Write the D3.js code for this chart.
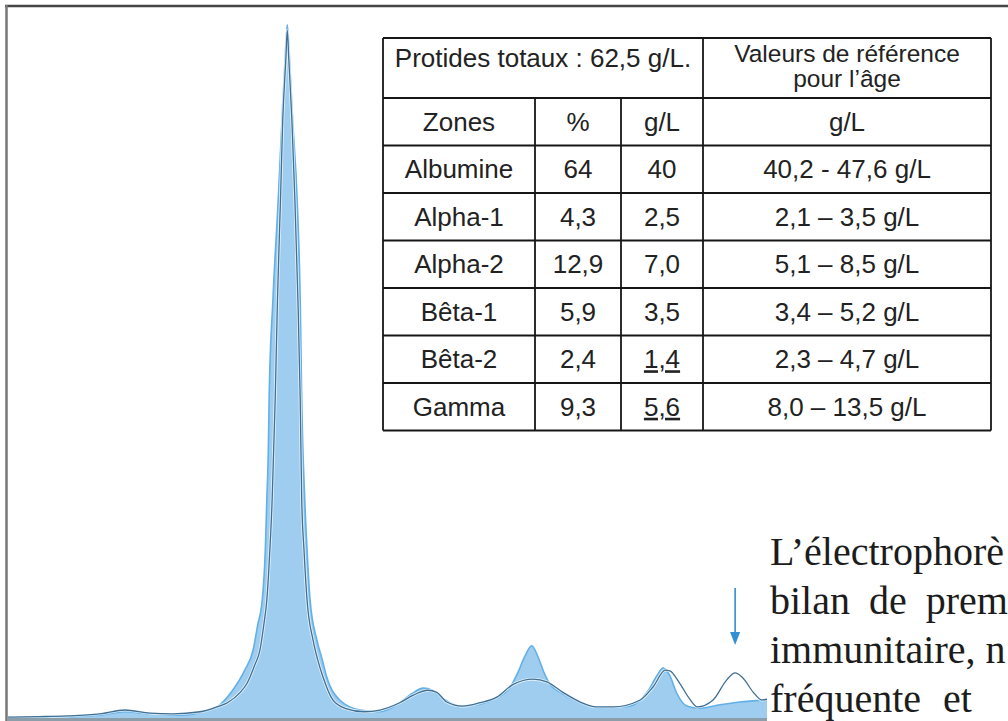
<!DOCTYPE html>
<html><head><meta charset="utf-8">
<script src="https://cdn.jsdelivr.net/npm/d3@7"></script>
<style>html,body{margin:0;padding:0;background:#fff;overflow:hidden}</style>
</head><body>
<svg id="c" width="1008" height="721"></svg>
<script>
// ---- Data: reference profile (outline) ----
const refMobility = [0,4.2,7.8,12.1,15.4,18.7,21.7,25.3,27.5,28.9,30.6,31.5,32.5,33.2,33.7,34.1,34.5,34.8,35.0,35.2,35.5,35.9,36.2,36.6,36.8,37.0,37.4,37.8,38.2,38.5,38.7,39.0,39.4,40.2,40.8,41.5,42.8,44.4,47.0,49.0,51.6,53.4,55.3,56.5,57.8,59.9,62.2,64.4,66.5,69.2,71.0,73.1,75.4,77.5,79.7,83.3,85.0,86.6,87.2,88.5,89.9,90.8,92.9,94.7,95.8,96.8,98.2,99.3,100];
const refIntensity = [0.14,0.2,0.3,0.6,1.15,0.7,0.6,0.9,1.6,2.2,3.7,5.0,7.6,9.8,13.4,17.0,24.2,31.4,38.6,45.8,60.2,74.6,86.2,94.8,99.1,94.8,86.2,74.6,60.2,45.8,31.4,24.2,17.0,11.2,8.4,5.9,2.6,1.4,0.9,1.15,2.2,3.3,4.0,3.7,2.3,1.7,2.2,3.0,4.8,5.6,5.2,3.7,2.3,1.6,1.6,2.6,4.5,6.9,6.8,5.0,2.6,1.6,2.6,5.5,6.5,5.8,3.7,2.6,2.7];
// ---- Data: patient profile (filled) ----
const patMobility = [0,7.8,12.1,15.4,18.7,22.7,26.0,27.9,29.6,31.2,32.3,32.9,33.5,33.9,34.1,34.3,34.4,34.9,35.6,36.1,36.5,36.8,37.1,37.5,38.1,38.5,38.7,39.1,39.4,39.8,40.7,41.4,42.0,43.7,46.4,49.0,51.6,53.2,54.7,55.9,57.2,59.6,62.2,64.4,66.1,67.2,68.1,69.0,69.8,70.6,71.4,73.1,75.4,78.0,81.9,84.2,85.5,86.3,87.2,88.1,89.5,91.2,93.8,96.4,100];
const patIntensity = [0,0.2,0.4,0.9,0.6,0.4,1.0,1.9,4.0,6.9,9.8,13.4,17.0,24.2,31.4,38.6,45.8,60.2,74.6,86.2,94.8,99.9,94.8,86.2,74.6,60.2,45.8,31.4,24.2,17.0,11.2,8.4,5.9,2.6,1.15,0.9,2.2,3.5,4.3,4.0,2.9,1.7,2.0,2.9,4.3,6.6,8.9,10.4,8.9,6.6,4.9,3.5,2.2,1.4,1.7,3.7,6.1,7.2,6.1,3.6,1.7,1.4,1.9,2.3,2.6];
const arrowMobility = [95.8];

// ---- Data: table ----
const headerTotal = "Protides totaux : 62,5 g/L.";
const headerRef = ["Valeurs de référence", "pour l’âge"];
const colHeaders = ["Zones", "%", "g/L", "g/L"];
const zones = ["Albumine", "Alpha-1", "Alpha-2", "Bêta-1", "Bêta-2", "Gamma"];
const percents = ["64", "4,3", "12,9", "5,9", "2,4", "9,3"];
const grams = ["40", "2,5", "7,0", "3,5", "1,4", "5,6"];
const refRanges = ["40,2 - 47,6 g/L", "2,1 – 3,5 g/L", "5,1 – 8,5 g/L", "3,4 – 5,2 g/L", "2,3 – 4,7 g/L", "8,0 – 13,5 g/L"];
const underlined = ["Bêta-2", "Gamma"];
// ---- Data: side text ----
const sideText = ["L’électrophorè", "bilan de prem", "immunitaire, n", "fréquente et"];

const svg = d3.select("#c");
const x = d3.scaleLinear().domain([0, 100]).range([8, 767]);
const y = d3.scaleLinear().domain([0, 100]).range([718, 24]);

const pat = patMobility.map((m, i) => ({m, v: patIntensity[i]}));
const ref = refMobility.map((m, i) => ({m, v: refIntensity[i]}));

const area = d3.area().x(d => x(d.m)).y0(y(0)).y1(d => y(d.v)).curve(d3.curveMonotoneX);
const line = d3.line().x(d => x(d.m)).y(d => y(d.v)).curve(d3.curveMonotoneX);

svg.append("path").attr("d", area(pat)).attr("fill", "#9fcdef");
svg.append("path").attr("d", line(pat)).attr("fill", "none").attr("stroke", "#62b0e8").attr("stroke-width", 1.6);
svg.append("path").attr("d", line(ref)).attr("fill", "none").attr("stroke", "#ffffff").attr("stroke-opacity", 0.7).attr("stroke-width", 3);
svg.append("path").attr("d", line(ref)).attr("fill", "none").attr("stroke", "#3f6f93").attr("stroke-width", 1.3);

// bottom baseline
svg.append("line").attr("x1", x(0)).attr("x2", x(100)).attr("y1", 719.5).attr("y2", 719.5)
  .attr("stroke", "#8d9eab").attr("stroke-width", 3);

// frame
svg.append("line").attr("x1", 5).attr("x2", 1008).attr("y1", 6).attr("y2", 6).attr("stroke", "#454545").attr("stroke-width", 2.5);
svg.append("line").attr("x1", 6.5).attr("x2", 6.5).attr("y1", 5).attr("y2", 721).attr("stroke", "#767676").attr("stroke-width", 2.5);

// arrow
const ax = x(arrowMobility[0]);
const arrowColor = "#2f90d2";
svg.append("line").attr("x1", ax).attr("x2", ax).attr("y1", 588).attr("y2", 636).attr("stroke", arrowColor).attr("stroke-width", 1.6);
svg.append("path").attr("d", d3.line()([[ax - 5, 632], [ax + 5, 632], [ax, 645]]) + "Z").attr("fill", arrowColor);

// table
const colX = [383, 535, 621, 703, 991];
const rowY = [38, 98];
for (let i = 0; i < zones.length + 1; i++) rowY.push(rowY[rowY.length - 1] + 47.5);
const t = svg.append("g").attr("font-family", "'Liberation Sans', Arial, sans-serif").attr("font-size", 26).attr("fill", "#222");
t.append("rect").attr("x", colX[0]).attr("y", rowY[0]).attr("width", colX[4] - colX[0]).attr("height", rowY[rowY.length - 1] - rowY[0]).attr("fill", "#fff");
const lc = "#161616", lw = 1.8;
rowY.forEach(yy => t.append("line").attr("x1", colX[0]).attr("x2", colX[4]).attr("y1", yy).attr("y2", yy).attr("stroke", lc).attr("stroke-width", lw));
[0, 3, 4].forEach(ci => t.append("line").attr("x1", colX[ci]).attr("x2", colX[ci]).attr("y1", rowY[0]).attr("y2", rowY[rowY.length - 1]).attr("stroke", lc).attr("stroke-width", lw));
[1, 2].forEach(ci => t.append("line").attr("x1", colX[ci]).attr("x2", colX[ci]).attr("y1", rowY[1]).attr("y2", rowY[rowY.length - 1]).attr("stroke", lc).attr("stroke-width", lw));
const cx = i => (colX[i] + colX[i + 1]) / 2;
t.append("text").attr("x", (colX[0] + colX[3]) / 2).attr("y", 67).attr("text-anchor", "middle").text(headerTotal);
headerRef.forEach((s, i) => t.append("text").attr("x", cx(3)).attr("y", 62 + i * 25).attr("font-size", 24.5).attr("text-anchor", "middle").text(s));
colHeaders.forEach((s, i) => t.append("text").attr("x", cx(i)).attr("y", (rowY[1] + rowY[2]) / 2 + 9).attr("text-anchor", "middle").text(s));
zones.forEach((z, r) => {
  const yy = (rowY[r + 2] + rowY[r + 3]) / 2 + 9;
  [z, percents[r], grams[r], refRanges[r]].forEach((s, i) => {
    const el = t.append("text").attr("x", cx(i)).attr("y", yy).attr("text-anchor", "middle").text(s);
    if (i === 2 && underlined.includes(z)) el.attr("text-decoration", "underline");
  });
});

// side text block (justified paragraph fragment, cut at the right edge)
const wordSpacing = [0, 9, 0, 12];
svg.append("rect").attr("x", x(100)).attr("y", 545).attr("width", 1008 - x(100)).attr("height", 176).attr("fill", "#fff");
const st = svg.append("g").attr("font-family", "'Liberation Serif', 'Times New Roman', serif").attr("font-size", 40).attr("fill", "#1c1c1c");
sideText.forEach((s, i) => st.append("text").attr("x", 770).attr("y", 565 + i * 49).attr("word-spacing", wordSpacing[i]).text(s));
</script>
</body></html>
